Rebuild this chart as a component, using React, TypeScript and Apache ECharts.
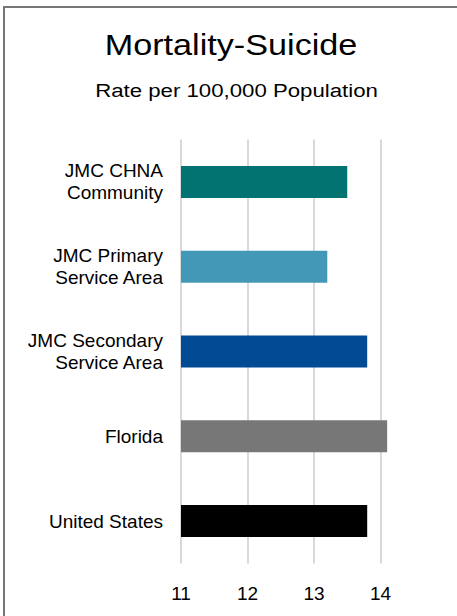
import React, { useEffect, useRef } from "react";
import * as echarts from "echarts";

const categories = [
  "JMC CHNA\nCommunity",
  "JMC Primary\nService Area",
  "JMC Secondary\nService Area",
  "Florida",
  "United States",
];
const values = [13.5, 13.2, 13.8, 14.1, 13.8];
const barColors = ["#037371", "#4498b7", "#014b94", "#777777", "#000000"];
const xMin = 11;
const xMax = 14.5;
const titleText = "Mortality-Suicide";
const subtitleText = "Rate per 100,000 Population";

export default function App() {
  const ref = useRef<HTMLDivElement>(null);
  useEffect(() => {
    if (!ref.current) return;
    const chart = echarts.init(ref.current, undefined, { renderer: "svg" });
    const font = "'Liberation Sans', Arial, sans-serif";
    chart.setOption({
      animation: false,
      backgroundColor: "#ffffff",
      textStyle: { fontFamily: font },
      graphic: [
        {
          type: "rect",
          shape: { x: 4, y: 7, width: 520, height: 700 },
          style: { fill: "none", stroke: "#767676", lineWidth: 2 },
          silent: true,
        },
        {
          type: "text",
          x: 231,
          y: 44.5,
          scaleX: 1.14,
          style: {
            text: titleText,
            x: 0,
            y: 0,
            fontSize: 30,
            fontFamily: font,
            fill: "#000000",
            textAlign: "center",
            textVerticalAlign: "middle",
          },
        },
        {
          type: "text",
          x: 236.5,
          y: 90,
          scaleX: 1.17,
          style: {
            text: subtitleText,
            x: 0,
            y: 0,
            fontSize: 19,
            fontFamily: font,
            fill: "#000000",
            textAlign: "center",
            textVerticalAlign: "middle",
          },
        },
      ],
      grid: { left: 181, right: 43.25, top: 139.5, bottom: 52.5, containLabel: false },
      xAxis: {
        type: "value",
        min: xMin,
        max: xMax,
        interval: 1,
        axisLine: { show: false },
        axisTick: { show: false },
        axisLabel: {
          margin: 20,
          fontSize: 19,
          lineHeight: 19,
          color: "#000000",
          fontFamily: font,
          showMaxLabel: false,
          formatter: (v: number) => (Number.isInteger(v) ? String(v) : ""),
        },
        splitLine: {
          show: true,
          showMaxLine: false,
          lineStyle: { color: "#d9d9d9", width: 2 },
        },
      },
      yAxis: {
        type: "category",
        data: categories,
        inverse: true,
        axisLine: { show: false },
        axisTick: { show: false },
        axisLabel: {
          margin: 18,
          fontSize: 19,
          lineHeight: 22,
          color: "#000000",
          fontFamily: font,
          align: "right",
        },
      },
      series: [
        {
          type: "bar",
          barWidth: 32,
          data: values.map((v, i) => ({ value: v, itemStyle: { color: barColors[i] } })),
        },
      ],
    });
    return () => chart.dispose();
  }, []);
  return (
    <div
      ref={ref}
      style={{ position: "fixed", left: 0, top: 0, width: 457, height: 616 }}
    />
  );
}
